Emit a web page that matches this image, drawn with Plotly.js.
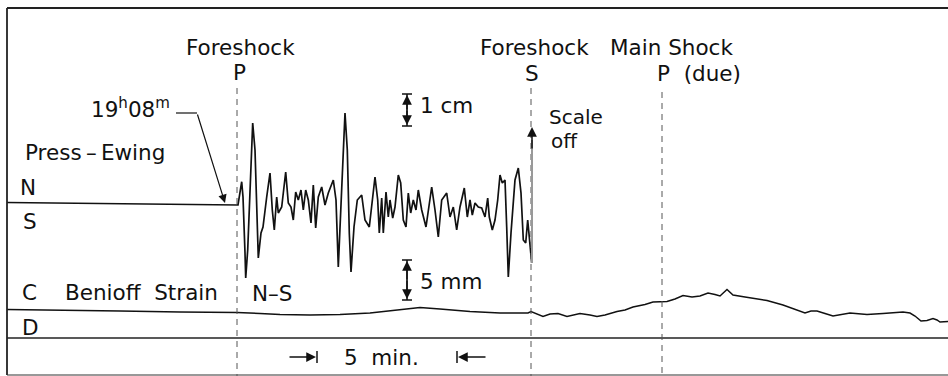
<!DOCTYPE html>
<html>
<head>
<meta charset="utf-8">
<script src="https://cdn.plot.ly/plotly-3.0.1.min.js"></script>
<style>html,body{margin:0;padding:0;background:#fff;}#chart{width:948px;height:376px;}</style>
</head>
<body>
<div id="chart"></div>
<script>
// Record coordinates (horizontal = time along record, vertical = trace deflection, record units)
var pressEwingX = [7,120,225,238,241.7,243,245,245.7,247.7,250,252.7,255,256.7,258.3,261,263,266.7,270,272.3,274.3,276.7,278.3,281.7,285.7,288.3,291,293.3,295.7,298.3,301,303.3,305.7,308.3,311,313.3,315.7,318.3,321.7,325,328.3,333.3,336,338.3,341.7,345,347.3,349.3,351,354,357.3,361.7,365,369.3,375,377.7,379.3,381.7,383.3,386,388.3,390,392.7,395,398.3,400.7,403.3,406,408.3,410.7,413.3,416,418.3,421.7,426,431.7,435,438.3,441.7,446.7,450,453.3,456.7,460,464.3,467.3,470,472.3,475,478.3,481.7,485,487.7,489.3,492.3,495,497.7,500,502.3,505,506.7,508.3,511,515,518.3,521,523.3,525.7,527.7,530,531.7];
var pressEwingY = [202.5,203.5,204.5,205,181.7,197,253,278,250,183,123,150,217,258,233,227,197,173,210,230,197,213,207,172,203,207,220,192,200,190,210,190,200,223,185,228,197,187,205,193,180,200,267,183,113,150,233,272,227,200,195,220,227,177,200,233,198,233,192,217,200,218,207,175,183,220,227,193,213,200,210,190,210,227,187,210,237,200,193,217,207,230,207,188,217,200,215,203,207,208,217,198,217,230,220,200,175,183,180,227,277,233,180,168,193,240,243,220,247,263];

var benioffX = [7,60,120,180,237,260,280,310,340,370,395,420,440,470,500,528,531,537,543,550,558,567,575,580,590,597,605,617,625,633,645,653,667,675,683,692,700,708,715,720,727,733,745,753,767,783,793,805,811,817,825,833,850,867,883,895,903,910,915,921,927,933,937,940,948];
var benioffY = [309.5,310,311,312,312.5,313.5,314.5,315,314.5,313,310,307.5,309,311.5,313,313,311.5,314,316.5,314,313.5,316.5,315,313.5,315,316.5,315,311.5,310,307,304.5,302,301.5,299,295.5,297,296,293,294.5,296,289.5,295,297,298.5,300.5,305,309,313,311,311,313.5,316,313,314.5,313.5,313,312,313,316,321,320.5,318.5,320,322,321.5];

var phaseNames = ["Foreshock P", "Foreshock S", "Main Shock P (due)"];
var phaseTimes = [237, 531, 662];

var FONT = "DejaVu Sans";
var fs = 21.5;

var traces = [
  {x: pressEwingX, y: pressEwingY, type: "scatter", mode: "lines",
   line: {color: "#111", width: 1.7}, hoverinfo: "skip", showlegend: false},
  {x: benioffX, y: benioffY, type: "scatter", mode: "lines",
   line: {color: "#111", width: 1.5}, hoverinfo: "skip", showlegend: false}
];

function seg(x0, y0, x1, y1, color, width, dash) {
  return {type: "line", xref: "x", yref: "y", x0: x0, y0: y0, x1: x1, y1: y1,
          line: {color: color || "#111", width: width || 1.5, dash: dash || "solid"}};
}

var shapes = [
  // frame
  seg(7, 8, 948, 8, "#222", 1.8),
  seg(7, 8, 7, 375, "#222", 1.8),
  seg(7, 375, 948, 375, "#333", 1.2),
  seg(7, 338, 948, 338, "#222", 1.5),
  // phase markers
  seg(phaseTimes[0], 88, phaseTimes[0], 376, "#555", 1, "6px,5px"),
  seg(phaseTimes[1], 88, phaseTimes[1], 376, "#555", 1, "6px,5px"),
  seg(phaseTimes[2], 92, phaseTimes[2], 376, "#555", 1, "6px,5px"),
  // 19h08m leader
  seg(176, 113, 197, 113, "#111", 1.2),
  // 1 cm scale caps
  seg(402, 94, 412, 94, "#111", 1.5),
  seg(402, 126, 412, 126, "#111", 1.5),
  seg(407, 94, 407, 126, "#111", 1.5),
  // 5 mm scale caps
  seg(402, 260, 412, 260, "#111", 1.5),
  seg(402, 300, 412, 300, "#111", 1.5),
  seg(407, 260, 407, 300, "#111", 1.5),
  // 5 min bars
  seg(317, 351, 317, 363, "#111", 1.5),
  seg(457, 351, 457, 363, "#111", 1.5),
  // scale off gray line
  seg(532, 263, 532, 140, "#999", 2)
];

function txt(t, x, y, xanchor, size) {
  return {text: t, x: x, y: y, xref: "x", yref: "y", showarrow: false,
          xanchor: xanchor || "center", yanchor: "middle",
          font: {family: FONT, size: size || fs, color: "#111"}};
}
function arr(x, y, ax, ay, w, size) {
  return {text: "", x: x, y: y, ax: ax, ay: ay, xref: "x", yref: "y", axref: "x", ayref: "y",
          showarrow: true, arrowhead: 2, arrowsize: size || 1.3, arrowwidth: w || 1.3,
          arrowcolor: "#111", standoff: 0, startstandoff: 0};
}

var annotations = [
  txt("Foreshock", 240, 47),
  txt("P", 239, 72),
  txt("Foreshock", 534, 47),
  txt("S", 532, 73),
  txt("Main Shock", 671, 47),
  txt("P  (due)", 655, 73, "left"),
  txt("19<sup>h</sup>08<sup>m</sup>", 130, 108),
  txt("Press\u2009\u2013\u2009Ewing", 95, 152),
  txt("N", 28, 187),
  txt("S", 30, 221),
  txt("C", 29, 292),
  txt("Benioff  Strain", 141, 292),
  txt("N\u2013S", 272, 293),
  txt("D", 30, 327),
  txt("1 cm", 418, 105, "left"),
  txt("5 mm", 418, 281, "left"),
  txt("Scale", 547, 117, "left", 20),
  txt("off", 549, 141, "left", 20),
  txt("5  min.", 381, 357),
  // arrows
  arr(225, 203, 197, 113, 1.2, 1.4),
  arr(407, 95, 407, 111, 1.5, 1.3),
  arr(407, 125, 407, 109, 1.5, 1.3),
  arr(407, 261, 407, 281, 1.5, 1.3),
  arr(407, 299, 407, 279, 1.5, 1.3),
  arr(532, 127, 532, 150, 1.5, 1.3),
  arr(316, 357, 288, 357, 1.5, 1.3),
  arr(458, 357, 487, 357, 1.5, 1.3)
];

var layout = {
  width: 948, height: 376,
  margin: {l: 0, r: 0, t: 0, b: 0, pad: 0},
  paper_bgcolor: "#fff", plot_bgcolor: "#fff",
  xaxis: {range: [0, 948], visible: false, fixedrange: true},
  yaxis: {range: [376, 0], visible: false, fixedrange: true},
  shapes: shapes,
  annotations: annotations,
  showlegend: false
};

Plotly.newPlot("chart", traces, layout, {staticPlot: true, displayModeBar: false});
</script>
</body>
</html>
